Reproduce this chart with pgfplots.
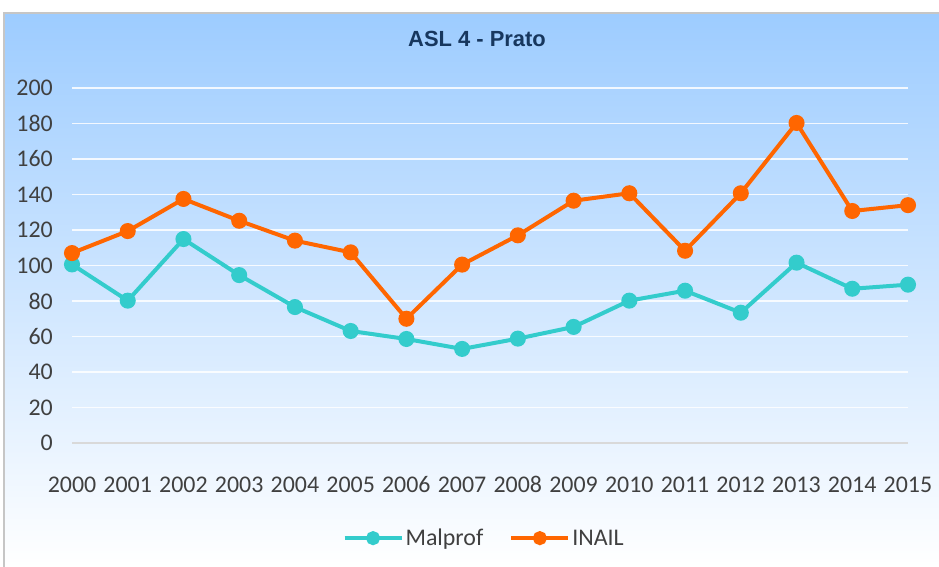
\documentclass[border=0pt]{standalone}
\usepackage{fontspec}
\setmainfont{Carlito}
\newfontfamily\titlefont{Liberation Sans}
\usepackage{pgfplots}
\pgfplotsset{compat=1.18}
\definecolor{malprof}{RGB}{51,204,204}
\definecolor{inail}{RGB}{255,102,0}
\definecolor{bgtop}{RGB}{157,204,255}
\definecolor{titlecol}{RGB}{23,55,94}
\definecolor{labelcol}{RGB}{64,64,64}

\begin{document}
\begin{tikzpicture}
\path[use as bounding box] (0,0) rectangle (939bp,567bp);
\shade[top color=bgtop, bottom color=white] (4bp,0) rectangle (939bp,554bp);
\draw[gray!45, line width=1.5bp] (4bp,0) -- (4bp,554bp) -- (939bp,554bp);
\node[font=\titlefont\bfseries\fontsize{22}{26}\selectfont, text=titlecol] at (477bp,528bp) {ASL 4 - Prato};
\begin{axis}[
  at={(72bp,124bp)}, anchor=south west,
  scale only axis, width=836bp, height=355bp,
  xmin=2000, xmax=2015, ymin=0, ymax=200,
  xtick={2000,...,2015}, ytick={0,20,...,200},
  axis line style={draw=none},
  major tick length=0pt,
  ymajorgrids,
  major grid style={white, line width=1.5bp, opacity=0.85},
  clip=false,
  /pgf/number format/1000 sep={},
  /pgf/number format/assume math mode=true,
  tick label style={font=\fontsize{24}{28}\selectfont, text=labelcol},
  yticklabel style={anchor=east, inner sep=0pt, xshift=-19bp},
  xticklabel style={anchor=base, inner sep=0pt, yshift=-49bp},
  legend columns=2,
  legend style={at={(0.493,-0.268)}, anchor=center, draw=none, fill=none,
    font=\fontsize{24}{28}\selectfont, text=labelcol,
    /tikz/every even column/.append style={column sep=24bp}},
  legend cell align=left,
  legend image code/.code={
    \draw[mark repeat=2, mark phase=2, #1, mark size=5bp] plot coordinates {(0bp,0bp) (28.5bp,0bp) (57bp,0bp)};
  },
]
\draw[gray!30, line width=2bp] (axis cs:2000,0) -- (axis cs:2015,0);
\addplot[malprof, line width=4bp, mark=*, mark size=6bp, mark options={fill=malprof, draw=malprof}]
  coordinates {(2000,100.6)(2001,80.2)(2002,114.9)(2003,94.6)(2004,76.6)(2005,63.1)(2006,58.6)(2007,53)
  (2008,58.8)(2009,65.4)(2010,80.2)(2011,85.8)(2012,73.4)(2013,101.6)(2014,86.9)(2015,89.2)};
\addlegendentry{Malprof}
\addplot[inail, line width=4bp, mark=*, mark size=6bp, mark options={fill=inail, draw=inail}]
  coordinates {(2000,107)(2001,119.4)(2002,137.5)(2003,125.2)(2004,114)(2005,107.4)(2006,70)(2007,100.5)
  (2008,117)(2009,136.5)(2010,140.7)(2011,108.3)(2012,140.7)(2013,180.3)(2014,130.7)(2015,134)};
\addlegendentry{INAIL}
\end{axis}
\end{tikzpicture}
\end{document}
